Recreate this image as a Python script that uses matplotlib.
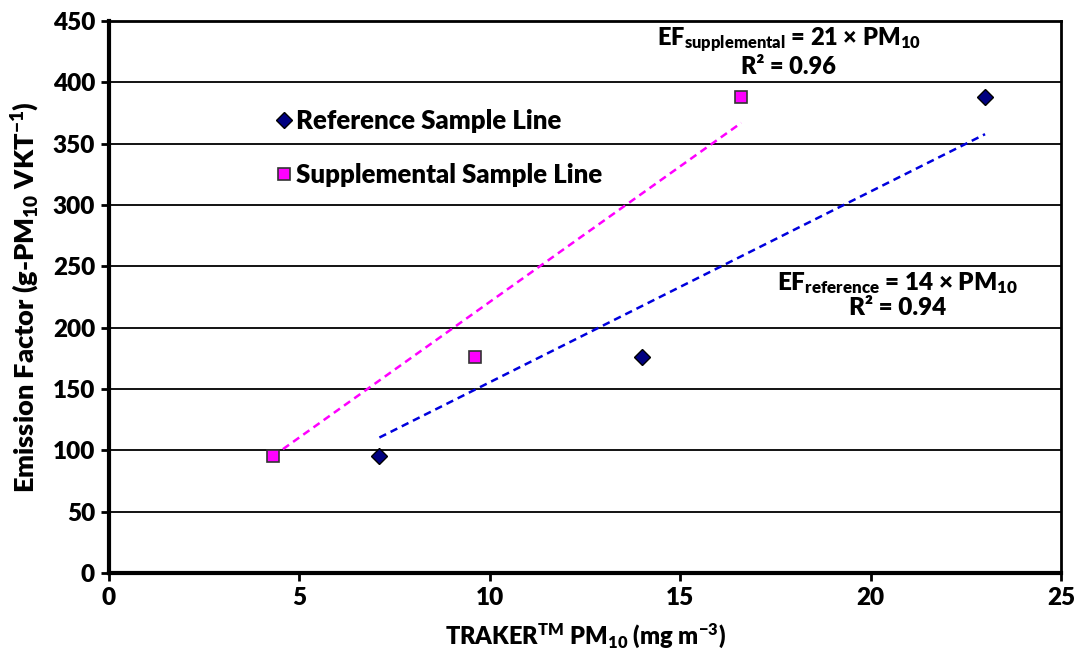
import numpy as np
import matplotlib
matplotlib.use("Agg")
import matplotlib.pyplot as plt

# TRAKER PM10 vs. emission factor for the two sample lines
ref_pm10 = [7.1, 14.0, 23.0]
ref_ef = [95, 176, 388]
sup_pm10 = [4.3, 9.6, 16.6]
sup_ef = [95, 176, 388]

ref_label = "Reference Sample Line"
sup_label = "Supplemental Sample Line"
sup_eq = r"EF$_{\mathregular{supplemental}}$ = 21 × PM$_{\mathregular{10}}$" + "\n" + "R² = 0.96"
ref_eq = r"EF$_{\mathregular{reference}}$ = 14 × PM$_{\mathregular{10}}$" + "\n" + "R² = 0.94"

W = "heavy"
plt.rcParams["font.family"] = ["Lato", "DejaVu Sans"]
plt.rcParams["font.weight"] = W
plt.rcParams["axes.labelweight"] = W
plt.rcParams["mathtext.fontset"] = "custom"
plt.rcParams["mathtext.rm"] = "Lato:heavy"
plt.rcParams["mathtext.it"] = "Lato:heavy"
plt.rcParams["mathtext.bf"] = "Lato:heavy"
plt.rcParams["mathtext.default"] = "regular"


def origin_fit(x, y):
    # least-squares slope with the intercept forced through zero
    x = np.asarray(x, float)
    y = np.asarray(y, float)
    return (x * y).sum() / (x * x).sum()


fig = plt.figure(figsize=(10.84, 6.59), dpi=100)
ax = fig.add_axes([0.1005, 0.1305, 0.8785, 0.8375])

ax.set_xlim(0, 25)
ax.set_ylim(0, 450)
ax.set_yticks(np.arange(0, 451, 50))
ax.set_xticks(np.arange(0, 26, 5))
ax.yaxis.grid(True, color="black", linewidth=1.3)
ax.set_axisbelow(True)

# trend lines through the origin
k_sup = origin_fit(sup_pm10, sup_ef)
k_ref = origin_fit(ref_pm10, ref_ef)
xs = np.array([min(sup_pm10), max(sup_pm10)])
ax.plot(xs, k_sup * xs, linestyle=(0, (3, 2)), color="#FF00FF", linewidth=1.8)
xr = np.array([min(ref_pm10), max(ref_pm10)])
ax.plot(xr, k_ref * xr, linestyle=(0, (3, 2)), color="#0000DD", linewidth=1.8)

ax.plot(ref_pm10, ref_ef, linestyle="none", marker="D", markersize=8.5,
        markerfacecolor="#000080", markeredgecolor="black", markeredgewidth=1,
        label=ref_label, clip_on=False, zorder=5)
ax.plot(sup_pm10, sup_ef, linestyle="none", marker="s", markersize=8.5,
        markerfacecolor="#FF00FF", markeredgecolor="#333333", markeredgewidth=1.2,
        label=sup_label, clip_on=False, zorder=5)

ax.text(17.85, 425, sup_eq, ha="center", va="center", fontsize=17,
        fontweight=W, linespacing=1.08)
ax.text(20.7, 227, ref_eq, ha="center", va="center", fontsize=17.5,
        fontweight=W, linespacing=1.08)

ax.legend(loc="upper left", bbox_to_anchor=(4.45, 378), bbox_transform=ax.transData,
          frameon=False, handlelength=0.4, handletextpad=0.3, labelspacing=1.15,
          prop={"size": 18.5, "weight": W}, borderaxespad=0, borderpad=0)

for side in ["left", "bottom"]:
    ax.spines[side].set_linewidth(3)
for side in ["top", "right"]:
    ax.spines[side].set_linewidth(2)
ax.tick_params(axis="both", direction="out", length=6, width=2, labelsize=17.5, pad=4)
for lab in ax.get_xticklabels() + ax.get_yticklabels():
    lab.set_fontweight(W)

ax.set_xlabel(r"TRAKER$^{\mathregular{TM}}$ PM$_{\mathregular{10}}$ (mg m$^{\mathregular{-3}}$)",
              fontsize=17, fontweight=W, labelpad=9)
ax.set_ylabel(r"Emission Factor (g-PM$_{\mathregular{10}}$ VKT$^{\mathregular{-1}}$)",
              fontsize=19.5, fontweight=W, labelpad=8)

fig.savefig("out.png", dpi=100)
